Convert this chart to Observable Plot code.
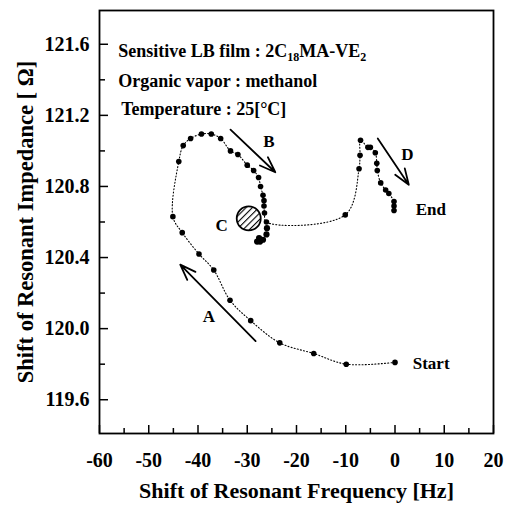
<!DOCTYPE html>
<html><head><meta charset="utf-8">
<script src="https://cdn.jsdelivr.net/npm/d3@7"></script>
<script src="https://cdn.jsdelivr.net/npm/@observablehq/plot@0.6"></script>
<style>body{margin:0;background:#fff}</style>
</head><body><div id="chart"></div>
<script>
// Main measured trajectory (connected by dotted line)
const pathFreq = [0, -9.9, -16.5, -23.4, -29.3, -33.5, -36.8, -39.8, -43.2, -45.1, -43.9, -43.0, -41.5, -39.3, -37.3, -35.4, -33.4, -31.9, -30.0, -28.7, -27.7, -27.3, -26.8, -26.6, -26.6, -26.5, -26.1,
  -10.1, -7.3, -7.1, -7.0, -5.5, -5.0, -4.0, -3.7, -3.6, -2.9, -1.9, -1.25, -0.2, -0.2, -0.2];
const pathImp = [119.81, 119.80, 119.86, 119.92, 120.045, 120.16, 120.33, 120.42, 120.54, 120.63, 120.94, 121.03, 121.07, 121.095, 121.095, 121.07, 121.00, 120.98, 120.92, 120.89, 120.85, 120.80, 120.75, 120.72, 120.69, 120.65, 120.60,
  120.64, 120.90, 120.975, 121.06, 121.02, 121.02, 120.99, 120.93, 120.89, 120.82, 120.78, 120.76, 120.715, 120.69, 120.665];
// Cluster of points near C (dots only)
const clusterFreq = [-26.0, -26.1, -26.8, -27.4, -28.0, -27.6];
const clusterImp = [120.565, 120.53, 120.50, 120.49, 120.49, 120.51];

// Hatched region C
const regionFreq = [-29.7];
const regionImp = [120.62];

// Arrows
const arrowNames = ["A", "B", "D"];
const arrowX1 = [-28.3, -33.4, -3.5];
const arrowY1 = [119.93, 121.12, 121.07];
const arrowX2 = [-43.6, -24.3, 2.8];
const arrowY2 = [120.36, 120.88, 120.81];

// Labels
const labelText = ["A", "B", "C", "D"];
const labelX = [-37.8, -25.6, -35.2, 2.5];
const labelY = [120.07, 121.05, 120.58, 120.98];
const endText = ["Start", "End"];
const endX = [3.6, 4.2];
const endY = [119.805, 120.67];

// Info lines
const infoText = ["Sensitive LB film : 2C18MA-VE2", "Organic vapor : methanol", "Temperature : 25[°C]"];
const infoX = [-56.2, -56.2, -55.6];
const infoY = [121.56, 121.39, 121.235];

// Axis titles
const xTitle = ["Shift of Resonant Frequency [Hz]"];
const yTitle = ["Shift of Resonant Impedance [ Ω]"];

// Ticks
const xMajor = [-60, -50, -40, -30, -20, -10, 0, 10, 20];
const xMinor = [-55, -45, -35, -25, -15, -5, 5, 15];
const yMajor = [119.6, 120.0, 120.4, 120.8, 121.2, 121.6];
const yMinor = [119.8, 120.2, 120.6, 121.0, 121.4];

const path = pathFreq.map((f, i) => ({f, z: pathImp[i]}));
const cluster = clusterFreq.map((f, i) => ({f, z: clusterImp[i]}));
const region = regionFreq.map((f, i) => ({f, z: regionImp[i]}));
const arrows = arrowNames.map((n, i) => ({x1: arrowX1[i], y1: arrowY1[i], x2: arrowX2[i], y2: arrowY2[i]}));
const labels = labelText.map((t, i) => ({t, x: labelX[i], y: labelY[i]}));
const ends = endText.map((t, i) => ({t, x: endX[i], y: endY[i]}));
const infos = infoText.map((t, i) => ({t, x: infoX[i], y: infoY[i]}));

const W = 509, H = 506, mL = 99, mR = 16, mT = 10, mB = 73;
const innerW = W - mL - mR, innerH = H - mT - mB;
const font = "Liberation Serif, Times New Roman, serif";

const svg = Plot.plot({
  width: W, height: H,
  marginLeft: mL, marginRight: mR, marginTop: mT, marginBottom: mB,
  style: {fontFamily: font, fontWeight: "bold", background: "#fff", color: "#000"},
  x: {domain: [-60, 20]},
  y: {domain: [119.41, 121.79]},
  marks: [
    Plot.frame({stroke: "#000", strokeWidth: 1.8}),
    Plot.axisX({ticks: xMajor, tickSize: 0, tickPadding: 19, tickFormat: d => String(d), fontSize: 20, fontWeight: "bold", fontFamily: font, label: null}),
    Plot.axisY({ticks: yMajor, tickSize: 0, tickPadding: 10, tickFormat: d => d.toFixed(1), fontSize: 20, fontWeight: "bold", fontFamily: font, label: null}),
    Plot.text(xTitle, {text: d => d, frameAnchor: "bottom", textAnchor: "middle", dy: 57, lineAnchor: "middle", fontSize: 22, fontWeight: "bold", fontFamily: font, fill: "#000"}),
    Plot.text(yTitle, {text: d => d, frameAnchor: "left", textAnchor: "middle", dx: -74, rotate: -90, lineAnchor: "middle", fontSize: 22.5, fontWeight: "bold", fontFamily: font, fill: "#000"}),
    Plot.tickX(xMajor, {x: d => d, insetTop: innerH - 8, stroke: "#000", strokeWidth: 1.5}),
    Plot.tickX(xMinor, {x: d => d, insetTop: innerH - 5, stroke: "#000", strokeWidth: 1.5}),
    Plot.tickY(yMajor, {y: d => d, insetRight: innerW - 9, stroke: "#000", strokeWidth: 1.5}),
    Plot.tickY(yMinor, {y: d => d, insetRight: innerW - 6, stroke: "#000", strokeWidth: 1.5}),
    Plot.line(path, {x: "f", y: "z", curve: "catmull-rom", stroke: "#000", strokeWidth: 1.1, strokeDasharray: "1,2.2"}),
    Plot.dot(path, {x: "f", y: "z", r: 2.8, fill: "#000", stroke: null}),
    Plot.dot(cluster, {x: "f", y: "z", r: 3.1, fill: "#000", stroke: null}),
    Plot.dot(region, {x: "f", y: "z", r: 12, fill: "url(#hatchC)", stroke: "#000", strokeWidth: 1.8}),
    Plot.arrow(arrows, {x1: "x1", y1: "y1", x2: "x2", y2: "y2", stroke: "#000", strokeWidth: 1.8, headLength: 14, headAngle: 40}),
    Plot.text(labels, {x: "x", y: "y", text: "t", fontSize: 17, fontWeight: "bold", fontFamily: font, fill: "#000"}),
    Plot.text(ends, {x: "x", y: "y", text: "t", textAnchor: "start", fontSize: 17, fontWeight: "bold", fontFamily: font, fill: "#000"}),
    Plot.text(infos, {x: "x", y: "y", text: "t", textAnchor: "start", fontSize: 18, fontWeight: "bold", fontFamily: font, fill: "#000"})
  ]
});

// hatch pattern
const NS = "http://www.w3.org/2000/svg";
const defs = document.createElementNS(NS, "defs");
const pat = document.createElementNS(NS, "pattern");
pat.setAttribute("id", "hatchC");
pat.setAttribute("width", "4.5");
pat.setAttribute("height", "4.5");
pat.setAttribute("patternUnits", "userSpaceOnUse");
pat.setAttribute("patternTransform", "rotate(45)");
const bg = document.createElementNS(NS, "rect");
bg.setAttribute("width", "4.5"); bg.setAttribute("height", "4.5"); bg.setAttribute("fill", "#fff");
const ln = document.createElementNS(NS, "line");
ln.setAttribute("x1", "0"); ln.setAttribute("y1", "0"); ln.setAttribute("x2", "0"); ln.setAttribute("y2", "4.5");
ln.setAttribute("stroke", "#000"); ln.setAttribute("stroke-width", "2.2");
pat.appendChild(bg); pat.appendChild(ln); defs.appendChild(pat);
svg.insertBefore(defs, svg.firstChild);

// subscripts
svg.querySelectorAll("text").forEach(t => {
  if (t.textContent === "Sensitive LB film : 2C18MA-VE2") {
    t.textContent = "";
    const parts = [["Sensitive LB film : 2C", 0, null], ["18", 4, 12], ["MA-VE", -4, null], ["2", 4, 12]];
    parts.forEach(([s, dy, fs]) => {
      const sp = document.createElementNS(NS, "tspan");
      sp.textContent = s;
      if (dy) sp.setAttribute("dy", dy);
      if (fs) sp.setAttribute("font-size", fs);
      t.appendChild(sp);
    });
  }
});

document.getElementById("chart").appendChild(svg);
</script>
</body></html>
